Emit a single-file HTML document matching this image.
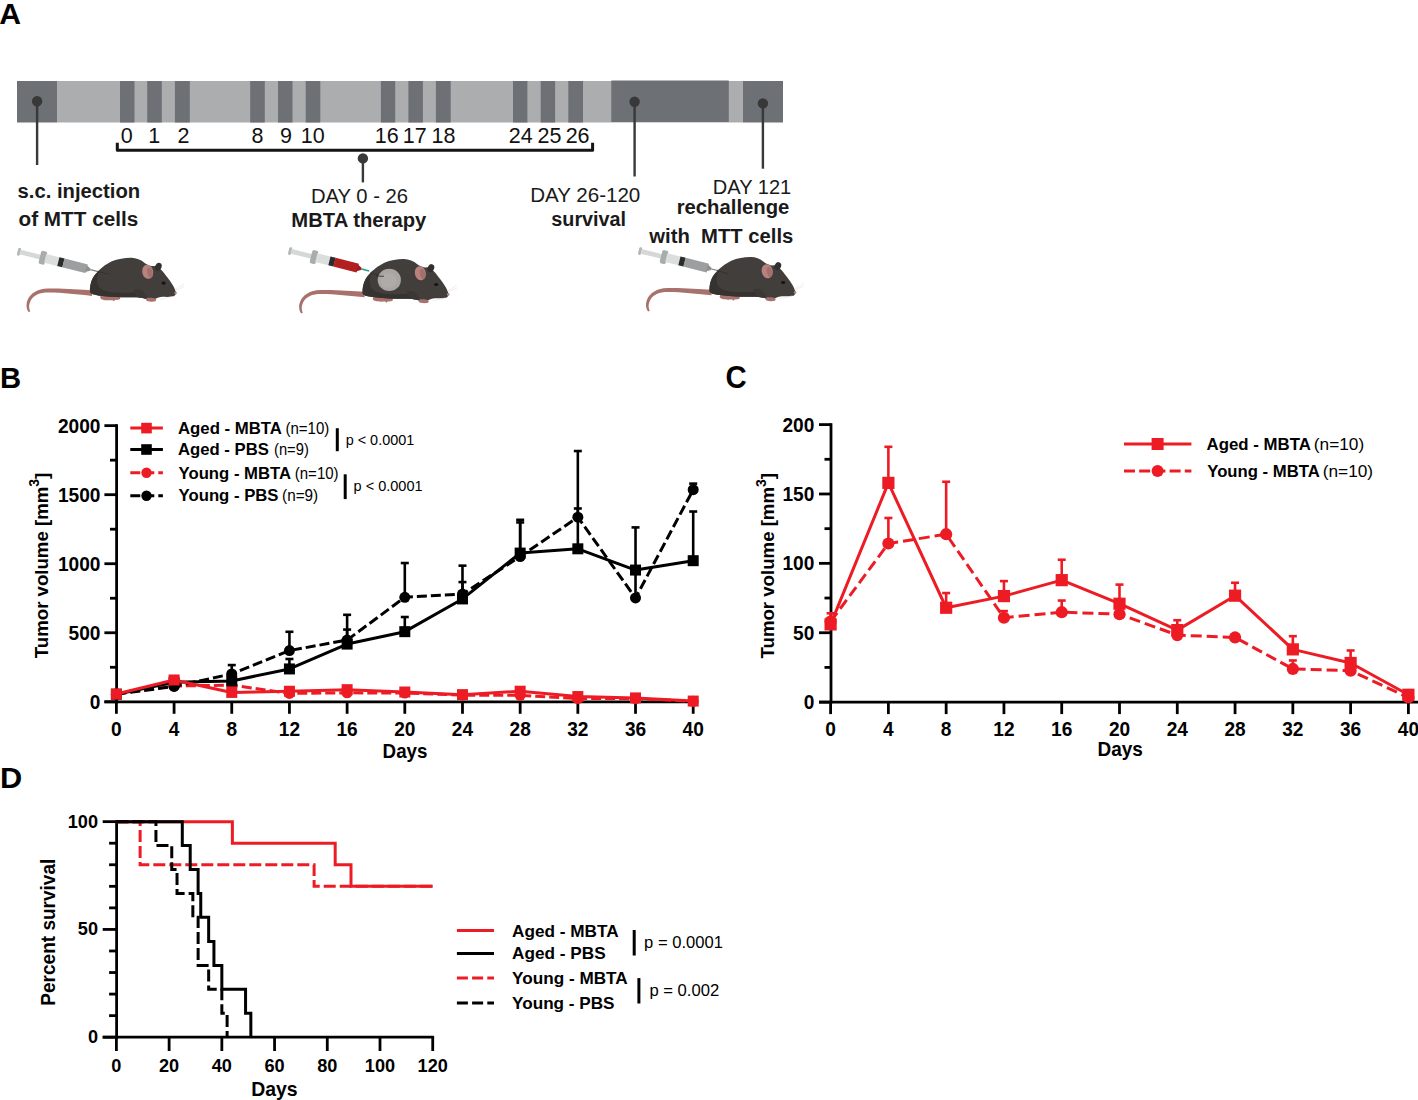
<!DOCTYPE html>
<html><head><meta charset="utf-8"><title>Figure</title>
<style>html,body{margin:0;padding:0;background:#fff;}svg{display:block;}text{font-family:"Liberation Sans", sans-serif;}</style>
</head><body>
<svg width="1418" height="1100" viewBox="0 0 1418 1100" font-family='"Liberation Sans", sans-serif'>
<rect width="1418" height="1100" fill="#fff"/>
<text x="-0.75" y="23.9" font-size="30" font-weight="bold" textLength="21.77" lengthAdjust="spacingAndGlyphs">A</text>
<rect x="57" y="81" width="686" height="41.5" fill="#acadaf"/>
<rect x="17" y="81" width="40" height="41.5" fill="#6d7175"/>
<rect x="120" y="81" width="14.5" height="41.5" fill="#6d7175"/>
<rect x="147.2" y="81" width="14.6" height="41.5" fill="#6d7175"/>
<rect x="174.9" y="81" width="14.9" height="41.5" fill="#6d7175"/>
<rect x="250.2" y="81" width="14.6" height="41.5" fill="#6d7175"/>
<rect x="278" y="81" width="14.5" height="41.5" fill="#6d7175"/>
<rect x="305.7" y="81" width="14.6" height="41.5" fill="#6d7175"/>
<rect x="380.9" y="81" width="14.3" height="41.5" fill="#6d7175"/>
<rect x="408.4" y="81" width="14.5" height="41.5" fill="#6d7175"/>
<rect x="435.9" y="81" width="14.8" height="41.5" fill="#6d7175"/>
<rect x="513" y="81" width="14.4" height="41.5" fill="#6d7175"/>
<rect x="540.7" y="81" width="14.4" height="41.5" fill="#6d7175"/>
<rect x="568.3" y="81" width="14.7" height="41.5" fill="#6d7175"/>
<rect x="611.3" y="80.5" width="117.5" height="41.5" fill="#6d7175"/>
<rect x="743" y="81" width="40" height="41.5" fill="#6d7175"/>
<text x="126.8" y="142.7" font-size="21.5" text-anchor="middle" fill="#111">0</text>
<text x="154.2" y="142.7" font-size="21.5" text-anchor="middle" fill="#111">1</text>
<text x="183.4" y="142.7" font-size="21.5" text-anchor="middle" fill="#111">2</text>
<text x="257.5" y="142.7" font-size="21.5" text-anchor="middle" fill="#111">8</text>
<text x="286" y="142.7" font-size="21.5" text-anchor="middle" fill="#111">9</text>
<text x="312.8" y="142.7" font-size="21.5" text-anchor="middle" fill="#111">10</text>
<text x="386.7" y="142.7" font-size="21.5" text-anchor="middle" fill="#111">16</text>
<text x="414.8" y="142.7" font-size="21.5" text-anchor="middle" fill="#111">17</text>
<text x="443.4" y="142.7" font-size="21.5" text-anchor="middle" fill="#111">18</text>
<text x="520.8" y="142.7" font-size="21.5" text-anchor="middle" fill="#111">24</text>
<text x="549.5" y="142.7" font-size="21.5" text-anchor="middle" fill="#111">25</text>
<text x="577.6" y="142.7" font-size="21.5" text-anchor="middle" fill="#111">26</text>
<path d="M117.3,142.8 V150.3 H592.6 V142.8" fill="none" stroke="#151515" stroke-width="3" stroke-linejoin="round"/>
<line x1="37.1" y1="101.3" x2="37.1" y2="165" stroke="#383838" stroke-width="2.4"/>
<circle cx="37.1" cy="101.3" r="5.2" fill="#383838"/>
<line x1="362.9" y1="158.4" x2="362.9" y2="182.4" stroke="#383838" stroke-width="2.4"/>
<circle cx="362.9" cy="158.4" r="5.2" fill="#383838"/>
<line x1="634.6" y1="101.7" x2="634.6" y2="176.5" stroke="#383838" stroke-width="2.4"/>
<circle cx="634.6" cy="101.7" r="5.2" fill="#383838"/>
<line x1="762.9" y1="103.4" x2="762.9" y2="168.7" stroke="#383838" stroke-width="2.4"/>
<circle cx="762.9" cy="103.4" r="5.2" fill="#383838"/>
<text x="17.59" y="197.6" font-size="20" font-weight="bold" textLength="122.57" lengthAdjust="spacingAndGlyphs" fill="#1a1a1a">s.c. injection</text>
<text x="18.57" y="225.5" font-size="20" font-weight="bold" textLength="119.63" lengthAdjust="spacingAndGlyphs" fill="#1a1a1a">of MTT cells</text>
<text x="310.98" y="203.4" font-size="20.5" textLength="97.11" lengthAdjust="spacingAndGlyphs" fill="#1a1a1a">DAY 0 - 26</text>
<text x="291.38" y="226.6" font-size="20" font-weight="bold" textLength="134.96" lengthAdjust="spacingAndGlyphs" fill="#1a1a1a">MBTA therapy</text>
<text x="530.15" y="202" font-size="20.5" textLength="110.18" lengthAdjust="spacingAndGlyphs" fill="#1a1a1a">DAY 26-120</text>
<text x="551.31" y="225.9" font-size="20" font-weight="bold" textLength="74.78" lengthAdjust="spacingAndGlyphs" fill="#1a1a1a">survival</text>
<text x="712.8" y="193.7" font-size="20.5" textLength="78.41" lengthAdjust="spacingAndGlyphs" fill="#1a1a1a">DAY 121</text>
<text x="676.68" y="214.4" font-size="20" font-weight="bold" textLength="112.69" lengthAdjust="spacingAndGlyphs" fill="#1a1a1a">rechallenge</text>
<text x="649.3" y="243" font-size="20" font-weight="bold" textLength="144.05" lengthAdjust="spacingAndGlyphs" fill="#1a1a1a">with&#160; MTT cells</text>
<defs><g id="mbody"><path d="M92,290.4 C80,289.6 62,288.2 48,288.6 C37,289 30.5,293.5 27.6,300 C25.8,304.5 26.3,309 28.6,312 L30.2,311.4 C28.6,308 28.8,304.3 30.6,300.8 C33.6,295.2 39.5,292.6 48.5,292.6 C62,292.6 79,294.6 92,295.9 Z" fill="#a8716c"/><path d="M101,295.5 C106,294.5 114,295 119.5,296.5 C121,297.5 120.5,299.5 118.5,299.8 L115,300 L114,301.3 L112.5,300.2 C109,300.4 104,300.5 101.5,299.2 C99.8,298.2 99.8,296.2 101,295.5Z" fill="#aa726d"/><path d="M89.9,292 C89.6,287.5 90.5,282 92.8,278.2 C94.5,275 96.5,272.8 99,270.2 C102.5,266.8 107,263.6 111.8,261.3 C118,258.9 125,257.6 131.5,257.7 C136,257.8 141,259.5 145,263.2 C148,265.2 151,266.2 153.5,266 C156,265.6 159,267.5 161.9,270.5 C164,273 166,275.5 167.5,277.5 C169.5,280.2 171.2,282.6 172.5,284.8 C174,287.2 175.2,289.6 176,292.6 C176.2,294.6 174.8,296.2 172.8,296.6 C169.5,297 166,297 162.5,296.8 C160,297.2 157,297.8 155,299 C152,300 148,299.8 146.5,299 C142,297.5 138,297.3 134,297.3 C128,297.4 122,297.4 116,297 C110,296.8 104,296.2 98,295.4 C94,294.8 91,293.8 89.9,292Z" fill="#423e3b"/><path d="M90,292 C89.8,287 90.8,281.5 93,277.5 C95,274.5 97.5,272 99.5,271 C97.5,275 96.4,280 97.6,284.5 C99,289.6 106,291.8 115,292.6 C125,293.3 134,292.8 140,291.5 C143,294 145,296.5 146.5,299 C142,297.5 138,297.3 134,297.3 C128,297.4 122,297.4 116,297 C110,296.8 104,296.2 98,295.4 C94,294.8 91,293.8 90,292Z" fill="#36322f"/><path d="M134,290 C138,288.5 141.5,289.5 143.5,292 C145.5,294.5 147,297 147.5,299.2 C144,298.6 140,297.6 136.5,297 Z" fill="#3b3734"/><path d="M146.5,298.3 C149,297.5 153,297.8 155.5,298.8 C156.6,299.6 156.2,301.3 154.6,301.6 C152,301.9 149,301.7 147,301 C145.8,300.4 145.6,298.9 146.5,298.3Z" fill="#aa726d"/><ellipse cx="158.3" cy="266.8" rx="3.2" ry="4.1" transform="rotate(25 158.3 266.8)" fill="#34302d"/><ellipse cx="147.7" cy="271.8" rx="5.5" ry="7.1" transform="rotate(-12 147.7 271.8)" fill="#b8837f"/><ellipse cx="150" cy="272.6" rx="2.6" ry="5" transform="rotate(-12 150 272.6)" fill="#a4706c"/><ellipse cx="163.6" cy="283.1" rx="2.1" ry="1.6" fill="#171313"/><circle cx="175.6" cy="293" r="1.3" fill="#c0807e"/><path d="M97.5,271.4 L108.5,274.2" stroke="#2a2a2a" stroke-width="0.7" fill="none" opacity="0.8"/><path d="M175,289.5 L184,284 M175.5,290.5 L184.5,286.5 M173,296.5 L160,299.5" stroke="#e3e3e3" stroke-width="0.6" fill="none"/></g></defs>
<g transform="translate(17.6,251.4) rotate(14.1)"><rect x="0" y="-3.9" width="2.9" height="7.8" rx="1.2" fill="#b3b6b7"/><rect x="2.5" y="-2.4" width="22.5" height="4.8" fill="#d6d8d8"/><rect x="23" y="-6.8" width="6.2" height="13.6" rx="2" fill="#a9acad"/><rect x="28.5" y="-4.5" width="42" height="9" fill="#dcdede"/><rect x="42" y="-4.5" width="5.3" height="9" fill="#2b2b2b"/><rect x="47.2" y="-4.5" width="24" height="9" fill="#9c9e9f"/><path d="M70.5,-3.5 L75,-1 L75,1 L70.5,3.5Z" fill="#8d9091"/><rect x="75" y="-0.6" width="8" height="1.2" fill="#7d8081"/></g>
<use href="#mbody"/>
<g transform="translate(288.7,250.7) rotate(14.1)"><rect x="0" y="-3.9" width="2.9" height="7.8" rx="1.2" fill="#b3b6b7"/><rect x="2.5" y="-2.4" width="22.5" height="4.8" fill="#d6d8d8"/><rect x="23" y="-6.8" width="6.2" height="13.6" rx="2" fill="#a9acad"/><rect x="28.5" y="-4.5" width="42" height="9" fill="#dcdede"/><rect x="42" y="-4.5" width="5.3" height="9" fill="#2b2b2b"/><rect x="47.2" y="-4.5" width="24" height="9" fill="#b21f1f"/><path d="M70.5,-3.5 L75,-1 L75,1 L70.5,3.5Z" fill="#a01c1c"/><rect x="75" y="-0.8" width="8" height="1.6" fill="#2c9c8c"/></g>
<use href="#mbody" transform="translate(272.6,1.4)"/>
<ellipse cx="389.3" cy="279.9" rx="11.6" ry="11.1" fill="#a8a5a2"/>
<ellipse cx="388.5" cy="280.5" rx="8" ry="7.5" fill="#b1afac" opacity="0.7"/>
<path d="M376,276 L384,276.3" stroke="#2a2a2a" stroke-width="0.8"/>
<g transform="translate(638.7,250.7) rotate(14.1)"><rect x="0" y="-3.9" width="2.9" height="7.8" rx="1.2" fill="#b3b6b7"/><rect x="2.5" y="-2.4" width="22.5" height="4.8" fill="#d6d8d8"/><rect x="23" y="-6.8" width="6.2" height="13.6" rx="2" fill="#a9acad"/><rect x="28.5" y="-4.5" width="42" height="9" fill="#dcdede"/><rect x="42" y="-4.5" width="5.3" height="9" fill="#2b2b2b"/><rect x="47.2" y="-4.5" width="24" height="9" fill="#9c9e9f"/><path d="M70.5,-3.5 L75,-1 L75,1 L70.5,3.5Z" fill="#8d9091"/><rect x="75" y="-0.6" width="8" height="1.2" fill="#7d8081"/></g>
<use href="#mbody" transform="translate(619.5,-0.6)"/>
<text x="0.1" y="387.5" font-size="30.3" font-weight="bold" textLength="21.13" lengthAdjust="spacingAndGlyphs">B</text>
<line x1="116.6" y1="424.24" x2="116.6" y2="703.20" stroke="#000" stroke-width="2.8"/><line x1="104.4" y1="701.80" x2="117" y2="701.80" stroke="#000" stroke-width="2.8"/><line x1="110" y1="667.28" x2="117" y2="667.28" stroke="#000" stroke-width="2.8"/><line x1="104.4" y1="632.76" x2="117" y2="632.76" stroke="#000" stroke-width="2.8"/><line x1="110" y1="598.24" x2="117" y2="598.24" stroke="#000" stroke-width="2.8"/><line x1="104.4" y1="563.72" x2="117" y2="563.72" stroke="#000" stroke-width="2.8"/><line x1="110" y1="529.20" x2="117" y2="529.20" stroke="#000" stroke-width="2.8"/><line x1="104.4" y1="494.68" x2="117" y2="494.68" stroke="#000" stroke-width="2.8"/><line x1="110" y1="460.16" x2="117" y2="460.16" stroke="#000" stroke-width="2.8"/><line x1="104.4" y1="425.64" x2="117" y2="425.64" stroke="#000" stroke-width="2.8"/><line x1="104.4" y1="701.80" x2="694.60" y2="701.80" stroke="#000" stroke-width="2.8"/><line x1="116.40" y1="701.80" x2="116.40" y2="713.8" stroke="#000" stroke-width="2.8"/><line x1="174.08" y1="701.80" x2="174.08" y2="713.8" stroke="#000" stroke-width="2.8"/><line x1="231.76" y1="701.80" x2="231.76" y2="713.8" stroke="#000" stroke-width="2.8"/><line x1="289.44" y1="701.80" x2="289.44" y2="713.8" stroke="#000" stroke-width="2.8"/><line x1="347.12" y1="701.80" x2="347.12" y2="713.8" stroke="#000" stroke-width="2.8"/><line x1="404.80" y1="701.80" x2="404.80" y2="713.8" stroke="#000" stroke-width="2.8"/><line x1="462.48" y1="701.80" x2="462.48" y2="713.8" stroke="#000" stroke-width="2.8"/><line x1="520.16" y1="701.80" x2="520.16" y2="713.8" stroke="#000" stroke-width="2.8"/><line x1="577.84" y1="701.80" x2="577.84" y2="713.8" stroke="#000" stroke-width="2.8"/><line x1="635.52" y1="701.80" x2="635.52" y2="713.8" stroke="#000" stroke-width="2.8"/><line x1="693.20" y1="701.80" x2="693.20" y2="713.8" stroke="#000" stroke-width="2.8"/>
<text x="100.4" y="708.8" font-size="20" font-weight="bold" text-anchor="end" textLength="10.62" lengthAdjust="spacingAndGlyphs">0</text>
<text x="100.4" y="639.76" font-size="20" font-weight="bold" text-anchor="end" textLength="31.87" lengthAdjust="spacingAndGlyphs">500</text>
<text x="100.4" y="570.72" font-size="20" font-weight="bold" text-anchor="end" textLength="42.49" lengthAdjust="spacingAndGlyphs">1000</text>
<text x="100.4" y="501.68" font-size="20" font-weight="bold" text-anchor="end" textLength="42.49" lengthAdjust="spacingAndGlyphs">1500</text>
<text x="100.4" y="432.64" font-size="20" font-weight="bold" text-anchor="end" textLength="42.49" lengthAdjust="spacingAndGlyphs">2000</text>
<text x="116.4" y="735.9" font-size="20" font-weight="bold" text-anchor="middle" textLength="10.62" lengthAdjust="spacingAndGlyphs">0</text>
<text x="174.08" y="735.9" font-size="20" font-weight="bold" text-anchor="middle" textLength="10.62" lengthAdjust="spacingAndGlyphs">4</text>
<text x="231.76" y="735.9" font-size="20" font-weight="bold" text-anchor="middle" textLength="10.62" lengthAdjust="spacingAndGlyphs">8</text>
<text x="289.44" y="735.9" font-size="20" font-weight="bold" text-anchor="middle" textLength="21.25" lengthAdjust="spacingAndGlyphs">12</text>
<text x="347.12" y="735.9" font-size="20" font-weight="bold" text-anchor="middle" textLength="21.25" lengthAdjust="spacingAndGlyphs">16</text>
<text x="404.8" y="735.9" font-size="20" font-weight="bold" text-anchor="middle" textLength="21.25" lengthAdjust="spacingAndGlyphs">20</text>
<text x="462.48" y="735.9" font-size="20" font-weight="bold" text-anchor="middle" textLength="21.25" lengthAdjust="spacingAndGlyphs">24</text>
<text x="520.16" y="735.9" font-size="20" font-weight="bold" text-anchor="middle" textLength="21.25" lengthAdjust="spacingAndGlyphs">28</text>
<text x="577.84" y="735.9" font-size="20" font-weight="bold" text-anchor="middle" textLength="21.25" lengthAdjust="spacingAndGlyphs">32</text>
<text x="635.52" y="735.9" font-size="20" font-weight="bold" text-anchor="middle" textLength="21.25" lengthAdjust="spacingAndGlyphs">36</text>
<text x="693.2" y="735.9" font-size="20" font-weight="bold" text-anchor="middle" textLength="21.25" lengthAdjust="spacingAndGlyphs">40</text>
<text x="382.58" y="757.8" font-size="19.8" font-weight="bold" textLength="44.88" lengthAdjust="spacingAndGlyphs">Days</text>
<text transform="translate(47.9,658.2) rotate(-90)" font-size="18.7" font-weight="bold" textLength="185.5" lengthAdjust="spacingAndGlyphs">Tumor volume [mm<tspan dy="-8.5" font-size="14">3</tspan><tspan dy="8.5">]</tspan></text>
<polyline points="116.40,693.79 174.08,686.02 231.76,685.09 289.44,693.40 347.12,692.85 404.80,693.05 462.48,695.13 520.16,695.37 577.84,698.50 635.52,698.68 693.20,701.34" fill="none" stroke="#ed1c24" stroke-width="3" stroke-dasharray="10 4" stroke-linejoin="round"/><circle cx="116.40" cy="693.79" r="5.5" fill="#ed1c24"/><circle cx="174.08" cy="686.02" r="5.5" fill="#ed1c24"/><circle cx="231.76" cy="685.09" r="5.5" fill="#ed1c24"/><circle cx="289.44" cy="693.40" r="5.5" fill="#ed1c24"/><circle cx="347.12" cy="692.85" r="5.5" fill="#ed1c24"/><circle cx="404.80" cy="693.05" r="5.5" fill="#ed1c24"/><circle cx="462.48" cy="695.13" r="5.5" fill="#ed1c24"/><circle cx="520.16" cy="695.37" r="5.5" fill="#ed1c24"/><circle cx="577.84" cy="698.50" r="5.5" fill="#ed1c24"/><circle cx="635.52" cy="698.68" r="5.5" fill="#ed1c24"/><circle cx="693.20" cy="701.34" r="5.5" fill="#ed1c24"/>
<line x1="231.76" y1="673.91" x2="231.76" y2="665.07" stroke="#000" stroke-width="2.6"/><line x1="227.76" y1="665.07" x2="235.76" y2="665.07" stroke="#000" stroke-width="2.6"/><line x1="289.44" y1="650.57" x2="289.44" y2="631.79" stroke="#000" stroke-width="2.6"/><line x1="285.44" y1="631.79" x2="293.44" y2="631.79" stroke="#000" stroke-width="2.6"/><line x1="347.12" y1="640.08" x2="347.12" y2="614.81" stroke="#000" stroke-width="2.6"/><line x1="343.12" y1="614.81" x2="351.12" y2="614.81" stroke="#000" stroke-width="2.6"/><line x1="404.80" y1="597.27" x2="404.80" y2="563.03" stroke="#000" stroke-width="2.6"/><line x1="400.80" y1="563.03" x2="408.80" y2="563.03" stroke="#000" stroke-width="2.6"/><line x1="462.48" y1="594.10" x2="462.48" y2="565.65" stroke="#000" stroke-width="2.6"/><line x1="458.48" y1="565.65" x2="466.48" y2="565.65" stroke="#000" stroke-width="2.6"/><line x1="520.16" y1="556.54" x2="520.16" y2="519.81" stroke="#000" stroke-width="2.6"/><line x1="516.16" y1="519.81" x2="524.16" y2="519.81" stroke="#000" stroke-width="2.6"/><line x1="577.84" y1="517.19" x2="577.84" y2="451.05" stroke="#000" stroke-width="2.6"/><line x1="573.84" y1="451.05" x2="581.84" y2="451.05" stroke="#000" stroke-width="2.6"/><line x1="635.52" y1="597.96" x2="635.52" y2="570.62" stroke="#000" stroke-width="2.6"/><line x1="631.52" y1="570.62" x2="639.52" y2="570.62" stroke="#000" stroke-width="2.6"/><line x1="693.20" y1="489.71" x2="693.20" y2="483.63" stroke="#000" stroke-width="2.6"/><line x1="689.20" y1="483.63" x2="697.20" y2="483.63" stroke="#000" stroke-width="2.6"/><polyline points="116.40,694.21 174.08,686.47 231.76,673.91 289.44,650.57 347.12,640.08 404.80,597.27 462.48,594.10 520.16,556.54 577.84,517.19 635.52,597.96 693.20,489.71" fill="none" stroke="#000" stroke-width="3" stroke-dasharray="10 4" stroke-linejoin="round"/><circle cx="116.40" cy="694.21" r="5.5" fill="#000"/><circle cx="174.08" cy="686.47" r="5.5" fill="#000"/><circle cx="231.76" cy="673.91" r="5.5" fill="#000"/><circle cx="289.44" cy="650.57" r="5.5" fill="#000"/><circle cx="347.12" cy="640.08" r="5.5" fill="#000"/><circle cx="404.80" cy="597.27" r="5.5" fill="#000"/><circle cx="462.48" cy="594.10" r="5.5" fill="#000"/><circle cx="520.16" cy="556.54" r="5.5" fill="#000"/><circle cx="577.84" cy="517.19" r="5.5" fill="#000"/><circle cx="635.52" cy="597.96" r="5.5" fill="#000"/><circle cx="693.20" cy="489.71" r="5.5" fill="#000"/>
<line x1="289.44" y1="668.94" x2="289.44" y2="659.00" stroke="#000" stroke-width="2.6"/><line x1="285.44" y1="659.00" x2="293.44" y2="659.00" stroke="#000" stroke-width="2.6"/><line x1="347.12" y1="644.08" x2="347.12" y2="629.58" stroke="#000" stroke-width="2.6"/><line x1="343.12" y1="629.58" x2="351.12" y2="629.58" stroke="#000" stroke-width="2.6"/><line x1="404.80" y1="631.66" x2="404.80" y2="617.02" stroke="#000" stroke-width="2.6"/><line x1="400.80" y1="617.02" x2="408.80" y2="617.02" stroke="#000" stroke-width="2.6"/><line x1="462.48" y1="598.93" x2="462.48" y2="582.08" stroke="#000" stroke-width="2.6"/><line x1="458.48" y1="582.08" x2="466.48" y2="582.08" stroke="#000" stroke-width="2.6"/><line x1="520.16" y1="553.09" x2="520.16" y2="522.43" stroke="#000" stroke-width="2.6"/><line x1="516.16" y1="522.43" x2="524.16" y2="522.43" stroke="#000" stroke-width="2.6"/><line x1="577.84" y1="548.81" x2="577.84" y2="508.49" stroke="#000" stroke-width="2.6"/><line x1="573.84" y1="508.49" x2="581.84" y2="508.49" stroke="#000" stroke-width="2.6"/><line x1="635.52" y1="570.07" x2="635.52" y2="527.40" stroke="#000" stroke-width="2.6"/><line x1="631.52" y1="527.40" x2="639.52" y2="527.40" stroke="#000" stroke-width="2.6"/><line x1="693.20" y1="560.68" x2="693.20" y2="511.53" stroke="#000" stroke-width="2.6"/><line x1="689.20" y1="511.53" x2="697.20" y2="511.53" stroke="#000" stroke-width="2.6"/><polyline points="116.40,694.21 174.08,682.33 231.76,680.95 289.44,668.94 347.12,644.08 404.80,631.66 462.48,598.93 520.16,553.09 577.84,548.81 635.52,570.07 693.20,560.68" fill="none" stroke="#000" stroke-width="3" stroke-linejoin="round"/><rect x="110.90" y="688.71" width="11" height="11" fill="#000"/><rect x="168.58" y="676.83" width="11" height="11" fill="#000"/><rect x="226.26" y="675.45" width="11" height="11" fill="#000"/><rect x="283.94" y="663.44" width="11" height="11" fill="#000"/><rect x="341.62" y="638.58" width="11" height="11" fill="#000"/><rect x="399.30" y="626.16" width="11" height="11" fill="#000"/><rect x="456.98" y="593.43" width="11" height="11" fill="#000"/><rect x="514.66" y="547.59" width="11" height="11" fill="#000"/><rect x="572.34" y="543.31" width="11" height="11" fill="#000"/><rect x="630.02" y="564.57" width="11" height="11" fill="#000"/><rect x="687.70" y="555.18" width="11" height="11" fill="#000"/>
<polyline points="116.40,694.07 174.08,679.98 231.76,692.41 289.44,691.25 347.12,689.66 404.80,692.01 462.48,694.63 520.16,691.21 577.84,696.55 635.52,697.91 693.20,701.07" fill="none" stroke="#ed1c24" stroke-width="3" stroke-linejoin="round"/><rect x="110.90" y="688.57" width="11" height="11" fill="#ed1c24"/><rect x="168.58" y="674.48" width="11" height="11" fill="#ed1c24"/><rect x="226.26" y="686.91" width="11" height="11" fill="#ed1c24"/><rect x="283.94" y="685.75" width="11" height="11" fill="#ed1c24"/><rect x="341.62" y="684.16" width="11" height="11" fill="#ed1c24"/><rect x="399.30" y="686.51" width="11" height="11" fill="#ed1c24"/><rect x="456.98" y="689.13" width="11" height="11" fill="#ed1c24"/><rect x="514.66" y="685.71" width="11" height="11" fill="#ed1c24"/><rect x="572.34" y="691.05" width="11" height="11" fill="#ed1c24"/><rect x="630.02" y="692.41" width="11" height="11" fill="#ed1c24"/><rect x="687.70" y="695.57" width="11" height="11" fill="#ed1c24"/>
<line x1="130.3" y1="428.1" x2="162.9" y2="428.1" stroke="#ed1c24" stroke-width="3"/>
<rect x="141.20" y="422.80" width="10.6" height="10.6" fill="#ed1c24"/>
<text x="177.98" y="433.9" font-size="17.1" font-weight="bold" textLength="103.99" lengthAdjust="spacingAndGlyphs">Aged - MBTA</text>
<text x="285.4" y="433.9" font-size="16.0" textLength="43.86" lengthAdjust="spacingAndGlyphs">(n=10)</text>
<line x1="130.3" y1="449.5" x2="162.9" y2="449.5" stroke="#000" stroke-width="3"/>
<rect x="141.20" y="444.20" width="10.6" height="10.6" fill="#000"/>
<text x="177.98" y="454.8" font-size="17.1" font-weight="bold" textLength="90.9" lengthAdjust="spacingAndGlyphs">Aged - PBS</text>
<text x="274.02" y="454.8" font-size="16.0" textLength="34.8" lengthAdjust="spacingAndGlyphs">(n=9)</text>
<line x1="130.3" y1="472.7" x2="162.9" y2="472.7" stroke="#ed1c24" stroke-width="3" stroke-dasharray="10 4"/>
<circle cx="146.50" cy="472.70" r="5.2" fill="#ed1c24"/>
<text x="178.57" y="478.5" font-size="17.1" font-weight="bold" textLength="112.52" lengthAdjust="spacingAndGlyphs">Young - MBTA</text>
<text x="294.8" y="478.5" font-size="16.0" textLength="43.75" lengthAdjust="spacingAndGlyphs">(n=10)</text>
<line x1="130.3" y1="495.8" x2="162.9" y2="495.8" stroke="#000" stroke-width="3" stroke-dasharray="10 4"/>
<circle cx="146.50" cy="495.80" r="5.2" fill="#000"/>
<text x="178.57" y="501.2" font-size="17.1" font-weight="bold" textLength="99.94" lengthAdjust="spacingAndGlyphs">Young - PBS</text>
<text x="282.08" y="501.2" font-size="16.0" textLength="36.07" lengthAdjust="spacingAndGlyphs">(n=9)</text>
<line x1="337.3" y1="428.2" x2="337.3" y2="451.2" stroke="#000" stroke-width="3"/>
<text x="345.7" y="445" font-size="15.5" textLength="68.5" lengthAdjust="spacingAndGlyphs">p &lt; 0.0001</text>
<line x1="345.2" y1="474.3" x2="345.2" y2="499.1" stroke="#000" stroke-width="3"/>
<text x="353.6" y="490.8" font-size="15.5" textLength="69" lengthAdjust="spacingAndGlyphs">p &lt; 0.0001</text>
<text x="725.5" y="387.7" font-size="30.5" font-weight="bold" textLength="21.16" lengthAdjust="spacingAndGlyphs">C</text>
<line x1="831" y1="423.20" x2="831" y2="703.50" stroke="#000" stroke-width="2.8"/><line x1="819" y1="702.10" x2="831.4" y2="702.10" stroke="#000" stroke-width="2.8"/><line x1="824.5" y1="667.41" x2="831.4" y2="667.41" stroke="#000" stroke-width="2.8"/><line x1="819" y1="632.73" x2="831.4" y2="632.73" stroke="#000" stroke-width="2.8"/><line x1="824.5" y1="598.04" x2="831.4" y2="598.04" stroke="#000" stroke-width="2.8"/><line x1="819" y1="563.35" x2="831.4" y2="563.35" stroke="#000" stroke-width="2.8"/><line x1="824.5" y1="528.66" x2="831.4" y2="528.66" stroke="#000" stroke-width="2.8"/><line x1="819" y1="493.98" x2="831.4" y2="493.98" stroke="#000" stroke-width="2.8"/><line x1="824.5" y1="459.29" x2="831.4" y2="459.29" stroke="#000" stroke-width="2.8"/><line x1="819" y1="424.60" x2="831.4" y2="424.60" stroke="#000" stroke-width="2.8"/><line x1="819" y1="702.10" x2="1420" y2="702.10" stroke="#000" stroke-width="2.8"/><line x1="830.60" y1="702.10" x2="830.60" y2="714.1" stroke="#000" stroke-width="2.8"/><line x1="888.38" y1="702.10" x2="888.38" y2="714.1" stroke="#000" stroke-width="2.8"/><line x1="946.16" y1="702.10" x2="946.16" y2="714.1" stroke="#000" stroke-width="2.8"/><line x1="1003.94" y1="702.10" x2="1003.94" y2="714.1" stroke="#000" stroke-width="2.8"/><line x1="1061.72" y1="702.10" x2="1061.72" y2="714.1" stroke="#000" stroke-width="2.8"/><line x1="1119.50" y1="702.10" x2="1119.50" y2="714.1" stroke="#000" stroke-width="2.8"/><line x1="1177.28" y1="702.10" x2="1177.28" y2="714.1" stroke="#000" stroke-width="2.8"/><line x1="1235.06" y1="702.10" x2="1235.06" y2="714.1" stroke="#000" stroke-width="2.8"/><line x1="1292.84" y1="702.10" x2="1292.84" y2="714.1" stroke="#000" stroke-width="2.8"/><line x1="1350.62" y1="702.10" x2="1350.62" y2="714.1" stroke="#000" stroke-width="2.8"/><line x1="1408.40" y1="702.10" x2="1408.40" y2="714.1" stroke="#000" stroke-width="2.8"/>
<text x="814.3" y="709.1" font-size="20" font-weight="bold" text-anchor="end" textLength="10.62" lengthAdjust="spacingAndGlyphs">0</text>
<text x="814.3" y="639.73" font-size="20" font-weight="bold" text-anchor="end" textLength="21.25" lengthAdjust="spacingAndGlyphs">50</text>
<text x="814.3" y="570.35" font-size="20" font-weight="bold" text-anchor="end" textLength="31.87" lengthAdjust="spacingAndGlyphs">100</text>
<text x="814.3" y="500.98" font-size="20" font-weight="bold" text-anchor="end" textLength="31.87" lengthAdjust="spacingAndGlyphs">150</text>
<text x="814.3" y="431.6" font-size="20" font-weight="bold" text-anchor="end" textLength="31.87" lengthAdjust="spacingAndGlyphs">200</text>
<text x="830.6" y="736.2" font-size="20" font-weight="bold" text-anchor="middle" textLength="10.62" lengthAdjust="spacingAndGlyphs">0</text>
<text x="888.38" y="736.2" font-size="20" font-weight="bold" text-anchor="middle" textLength="10.62" lengthAdjust="spacingAndGlyphs">4</text>
<text x="946.16" y="736.2" font-size="20" font-weight="bold" text-anchor="middle" textLength="10.62" lengthAdjust="spacingAndGlyphs">8</text>
<text x="1003.94" y="736.2" font-size="20" font-weight="bold" text-anchor="middle" textLength="21.25" lengthAdjust="spacingAndGlyphs">12</text>
<text x="1061.72" y="736.2" font-size="20" font-weight="bold" text-anchor="middle" textLength="21.25" lengthAdjust="spacingAndGlyphs">16</text>
<text x="1119.5" y="736.2" font-size="20" font-weight="bold" text-anchor="middle" textLength="21.25" lengthAdjust="spacingAndGlyphs">20</text>
<text x="1177.28" y="736.2" font-size="20" font-weight="bold" text-anchor="middle" textLength="21.25" lengthAdjust="spacingAndGlyphs">24</text>
<text x="1235.06" y="736.2" font-size="20" font-weight="bold" text-anchor="middle" textLength="21.25" lengthAdjust="spacingAndGlyphs">28</text>
<text x="1292.84" y="736.2" font-size="20" font-weight="bold" text-anchor="middle" textLength="21.25" lengthAdjust="spacingAndGlyphs">32</text>
<text x="1350.62" y="736.2" font-size="20" font-weight="bold" text-anchor="middle" textLength="21.25" lengthAdjust="spacingAndGlyphs">36</text>
<text x="1408.4" y="736.2" font-size="20" font-weight="bold" text-anchor="middle" textLength="21.25" lengthAdjust="spacingAndGlyphs">40</text>
<text x="1097.47" y="755.5" font-size="19.8" font-weight="bold" textLength="45.41" lengthAdjust="spacingAndGlyphs">Days</text>
<text transform="translate(774.4,658.5) rotate(-90)" font-size="18.7" font-weight="bold" textLength="185.5" lengthAdjust="spacingAndGlyphs">Tumor volume [mm<tspan dy="-8.5" font-size="14">3</tspan><tspan dy="8.5">]</tspan></text>
<line x1="830.60" y1="621.62" x2="830.60" y2="613.30" stroke="#ed1c24" stroke-width="2.6"/><line x1="826.60" y1="613.30" x2="834.60" y2="613.30" stroke="#ed1c24" stroke-width="2.6"/><line x1="888.38" y1="543.51" x2="888.38" y2="517.98" stroke="#ed1c24" stroke-width="2.6"/><line x1="884.38" y1="517.98" x2="892.38" y2="517.98" stroke="#ed1c24" stroke-width="2.6"/><line x1="946.16" y1="534.21" x2="946.16" y2="481.76" stroke="#ed1c24" stroke-width="2.6"/><line x1="942.16" y1="481.76" x2="950.16" y2="481.76" stroke="#ed1c24" stroke-width="2.6"/><line x1="1003.94" y1="617.74" x2="1003.94" y2="611.08" stroke="#ed1c24" stroke-width="2.6"/><line x1="999.94" y1="611.08" x2="1007.94" y2="611.08" stroke="#ed1c24" stroke-width="2.6"/><line x1="1061.72" y1="612.19" x2="1061.72" y2="600.54" stroke="#ed1c24" stroke-width="2.6"/><line x1="1057.72" y1="600.54" x2="1065.72" y2="600.54" stroke="#ed1c24" stroke-width="2.6"/><line x1="1292.84" y1="668.94" x2="1292.84" y2="660.48" stroke="#ed1c24" stroke-width="2.6"/><line x1="1288.84" y1="660.48" x2="1296.84" y2="660.48" stroke="#ed1c24" stroke-width="2.6"/><polyline points="830.60,621.62 888.38,543.51 946.16,534.21 1003.94,617.74 1061.72,612.19 1119.50,614.13 1177.28,635.08 1235.06,637.44 1292.84,668.94 1350.62,670.74 1408.40,697.52" fill="none" stroke="#ed1c24" stroke-width="3" stroke-dasharray="11 5" stroke-linejoin="round"/><circle cx="830.60" cy="621.62" r="6.1" fill="#ed1c24"/><circle cx="888.38" cy="543.51" r="6.1" fill="#ed1c24"/><circle cx="946.16" cy="534.21" r="6.1" fill="#ed1c24"/><circle cx="1003.94" cy="617.74" r="6.1" fill="#ed1c24"/><circle cx="1061.72" cy="612.19" r="6.1" fill="#ed1c24"/><circle cx="1119.50" cy="614.13" r="6.1" fill="#ed1c24"/><circle cx="1177.28" cy="635.08" r="6.1" fill="#ed1c24"/><circle cx="1235.06" cy="637.44" r="6.1" fill="#ed1c24"/><circle cx="1292.84" cy="668.94" r="6.1" fill="#ed1c24"/><circle cx="1350.62" cy="670.74" r="6.1" fill="#ed1c24"/><circle cx="1408.40" cy="697.52" r="6.1" fill="#ed1c24"/>
<line x1="888.38" y1="482.88" x2="888.38" y2="446.80" stroke="#ed1c24" stroke-width="2.6"/><line x1="884.38" y1="446.80" x2="892.38" y2="446.80" stroke="#ed1c24" stroke-width="2.6"/><line x1="946.16" y1="607.75" x2="946.16" y2="593.04" stroke="#ed1c24" stroke-width="2.6"/><line x1="942.16" y1="593.04" x2="950.16" y2="593.04" stroke="#ed1c24" stroke-width="2.6"/><line x1="1003.94" y1="596.10" x2="1003.94" y2="581.11" stroke="#ed1c24" stroke-width="2.6"/><line x1="999.94" y1="581.11" x2="1007.94" y2="581.11" stroke="#ed1c24" stroke-width="2.6"/><line x1="1061.72" y1="580.14" x2="1061.72" y2="559.74" stroke="#ed1c24" stroke-width="2.6"/><line x1="1057.72" y1="559.74" x2="1065.72" y2="559.74" stroke="#ed1c24" stroke-width="2.6"/><line x1="1119.50" y1="603.73" x2="1119.50" y2="584.58" stroke="#ed1c24" stroke-width="2.6"/><line x1="1115.50" y1="584.58" x2="1123.50" y2="584.58" stroke="#ed1c24" stroke-width="2.6"/><line x1="1177.28" y1="630.09" x2="1177.28" y2="620.24" stroke="#ed1c24" stroke-width="2.6"/><line x1="1173.28" y1="620.24" x2="1181.28" y2="620.24" stroke="#ed1c24" stroke-width="2.6"/><line x1="1235.06" y1="595.68" x2="1235.06" y2="582.77" stroke="#ed1c24" stroke-width="2.6"/><line x1="1231.06" y1="582.77" x2="1239.06" y2="582.77" stroke="#ed1c24" stroke-width="2.6"/><line x1="1292.84" y1="649.38" x2="1292.84" y2="636.19" stroke="#ed1c24" stroke-width="2.6"/><line x1="1288.84" y1="636.19" x2="1296.84" y2="636.19" stroke="#ed1c24" stroke-width="2.6"/><line x1="1350.62" y1="662.97" x2="1350.62" y2="650.49" stroke="#ed1c24" stroke-width="2.6"/><line x1="1346.62" y1="650.49" x2="1354.62" y2="650.49" stroke="#ed1c24" stroke-width="2.6"/><polyline points="830.60,624.40 888.38,482.88 946.16,607.75 1003.94,596.10 1061.72,580.14 1119.50,603.73 1177.28,630.09 1235.06,595.68 1292.84,649.38 1350.62,662.97 1408.40,694.75" fill="none" stroke="#ed1c24" stroke-width="3" stroke-linejoin="round"/><rect x="824.50" y="618.30" width="12.2" height="12.2" fill="#ed1c24"/><rect x="882.28" y="476.77" width="12.2" height="12.2" fill="#ed1c24"/><rect x="940.06" y="601.65" width="12.2" height="12.2" fill="#ed1c24"/><rect x="997.84" y="590.00" width="12.2" height="12.2" fill="#ed1c24"/><rect x="1055.62" y="574.04" width="12.2" height="12.2" fill="#ed1c24"/><rect x="1113.40" y="597.63" width="12.2" height="12.2" fill="#ed1c24"/><rect x="1171.18" y="623.99" width="12.2" height="12.2" fill="#ed1c24"/><rect x="1228.96" y="589.58" width="12.2" height="12.2" fill="#ed1c24"/><rect x="1286.74" y="643.27" width="12.2" height="12.2" fill="#ed1c24"/><rect x="1344.52" y="656.87" width="12.2" height="12.2" fill="#ed1c24"/><rect x="1402.30" y="688.65" width="12.2" height="12.2" fill="#ed1c24"/>
<line x1="1124" y1="444" x2="1191.4" y2="444" stroke="#ed1c24" stroke-width="3"/>
<rect x="1151.60" y="438.00" width="12" height="12" fill="#ed1c24"/>
<line x1="1124" y1="471.1" x2="1191.4" y2="471.1" stroke="#ed1c24" stroke-width="3" stroke-dasharray="11 4.2"/>
<circle cx="1157.60" cy="471.10" r="6" fill="#ed1c24"/>
<text x="1206.58" y="449.9" font-size="17.3" font-weight="bold" textLength="104.29" lengthAdjust="spacingAndGlyphs">Aged - MBTA</text>
<text x="1313.87" y="449.9" font-size="17.1" textLength="50.33" lengthAdjust="spacingAndGlyphs">(n=10)</text>
<text x="1207.27" y="476.9" font-size="17.3" font-weight="bold" textLength="112.52" lengthAdjust="spacingAndGlyphs">Young - MBTA</text>
<text x="1322.77" y="476.9" font-size="17.1" textLength="50.33" lengthAdjust="spacingAndGlyphs">(n=10)</text>
<text x="0" y="787.7" font-size="30.1" font-weight="bold" textLength="22.2" lengthAdjust="spacingAndGlyphs">D</text>
<line x1="116.6" y1="820.25" x2="116.6" y2="1038.60" stroke="#000" stroke-width="2.8"/><line x1="102.7" y1="1037.20" x2="117" y2="1037.20" stroke="#000" stroke-width="2.8"/><line x1="109.1" y1="1015.65" x2="117" y2="1015.65" stroke="#000" stroke-width="2.8"/><line x1="109.1" y1="994.09" x2="117" y2="994.09" stroke="#000" stroke-width="2.8"/><line x1="109.1" y1="972.54" x2="117" y2="972.54" stroke="#000" stroke-width="2.8"/><line x1="109.1" y1="950.98" x2="117" y2="950.98" stroke="#000" stroke-width="2.8"/><line x1="102.7" y1="929.43" x2="117" y2="929.43" stroke="#000" stroke-width="2.8"/><line x1="109.1" y1="907.87" x2="117" y2="907.87" stroke="#000" stroke-width="2.8"/><line x1="109.1" y1="886.32" x2="117" y2="886.32" stroke="#000" stroke-width="2.8"/><line x1="109.1" y1="864.76" x2="117" y2="864.76" stroke="#000" stroke-width="2.8"/><line x1="109.1" y1="843.21" x2="117" y2="843.21" stroke="#000" stroke-width="2.8"/><line x1="102.7" y1="821.65" x2="117" y2="821.65" stroke="#000" stroke-width="2.8"/><line x1="102.7" y1="1037.20" x2="434.12" y2="1037.20" stroke="#000" stroke-width="2.8"/><line x1="116.40" y1="1037.20" x2="116.40" y2="1051" stroke="#000" stroke-width="2.8"/><line x1="169.12" y1="1037.20" x2="169.12" y2="1051" stroke="#000" stroke-width="2.8"/><line x1="221.84" y1="1037.20" x2="221.84" y2="1051" stroke="#000" stroke-width="2.8"/><line x1="274.56" y1="1037.20" x2="274.56" y2="1051" stroke="#000" stroke-width="2.8"/><line x1="327.28" y1="1037.20" x2="327.28" y2="1051" stroke="#000" stroke-width="2.8"/><line x1="380.00" y1="1037.20" x2="380.00" y2="1051" stroke="#000" stroke-width="2.8"/><line x1="432.72" y1="1037.20" x2="432.72" y2="1051" stroke="#000" stroke-width="2.8"/>
<text x="98.0" y="1043.2" font-size="18.6" font-weight="bold" text-anchor="end" textLength="10.09" lengthAdjust="spacingAndGlyphs">0</text>
<text x="98.0" y="935.43" font-size="18.6" font-weight="bold" text-anchor="end" textLength="20.17" lengthAdjust="spacingAndGlyphs">50</text>
<text x="98.0" y="827.65" font-size="18.6" font-weight="bold" text-anchor="end" textLength="30.26" lengthAdjust="spacingAndGlyphs">100</text>
<text x="116.4" y="1072.4" font-size="18.8" font-weight="bold" text-anchor="middle" textLength="10.09" lengthAdjust="spacingAndGlyphs">0</text>
<text x="169.12" y="1072.4" font-size="18.8" font-weight="bold" text-anchor="middle" textLength="20.18" lengthAdjust="spacingAndGlyphs">20</text>
<text x="221.84" y="1072.4" font-size="18.8" font-weight="bold" text-anchor="middle" textLength="20.18" lengthAdjust="spacingAndGlyphs">40</text>
<text x="274.56" y="1072.4" font-size="18.8" font-weight="bold" text-anchor="middle" textLength="20.18" lengthAdjust="spacingAndGlyphs">60</text>
<text x="327.28" y="1072.4" font-size="18.8" font-weight="bold" text-anchor="middle" textLength="20.18" lengthAdjust="spacingAndGlyphs">80</text>
<text x="380.0" y="1072.4" font-size="18.8" font-weight="bold" text-anchor="middle" textLength="30.27" lengthAdjust="spacingAndGlyphs">100</text>
<text x="432.72" y="1072.4" font-size="18.8" font-weight="bold" text-anchor="middle" textLength="30.27" lengthAdjust="spacingAndGlyphs">120</text>
<text x="251.24" y="1095.9" font-size="19.8" font-weight="bold" textLength="46.45" lengthAdjust="spacingAndGlyphs">Days</text>
<text transform="translate(55,1005.7) rotate(-90)" font-size="20.6" font-weight="bold" textLength="147" lengthAdjust="spacingAndGlyphs">Percent survival</text>
<path d="M116.40,821.65 H140.12 V864.76 H314.10 V886.32 H432.72 V886.32" fill="none" stroke="#ed1c24" stroke-width="3" stroke-dasharray="12 4"/>
<path d="M116.40,821.65 H232.38 V843.21 H335.19 V864.76 H351.00 V886.32 H432.72 V886.32" fill="none" stroke="#ed1c24" stroke-width="3"/>
<path d="M116.40,821.65 H155.94 V845.58 H171.76 V869.50 H177.03 V893.43 H192.84 V917.35 H198.12 V965.42 H208.66 V989.35 H221.84 V1013.27 H227.11 V1037.20" fill="none" stroke="#000" stroke-width="3" stroke-dasharray="12 4"/>
<path d="M116.40,821.65 H182.30 V845.58 H190.21 V869.50 H198.12 V893.43 H200.75 V917.35 H208.66 V941.50 H213.93 V965.42 H221.84 V989.35 H245.56 V1013.27 H250.84 V1037.20" fill="none" stroke="#000" stroke-width="3"/>
<line x1="456.9" y1="930.5" x2="494" y2="930.5" stroke="#ed1c24" stroke-width="3"/>
<text x="511.97" y="937.0" font-size="16.9" font-weight="bold" textLength="106.61" lengthAdjust="spacingAndGlyphs">Aged - MBTA</text>
<line x1="456.9" y1="953.4" x2="494" y2="953.4" stroke="#000" stroke-width="3"/>
<text x="511.97" y="959.3" font-size="16.9" font-weight="bold" textLength="93.63" lengthAdjust="spacingAndGlyphs">Aged - PBS</text>
<line x1="456.9" y1="978.1" x2="494" y2="978.1" stroke="#ed1c24" stroke-width="3" stroke-dasharray="11 4.2"/>
<text x="512.06" y="983.7" font-size="16.9" font-weight="bold" textLength="115.64" lengthAdjust="spacingAndGlyphs">Young - MBTA</text>
<line x1="456.9" y1="1003.1" x2="494" y2="1003.1" stroke="#000" stroke-width="3" stroke-dasharray="11 4.2"/>
<text x="512.06" y="1009.0" font-size="16.9" font-weight="bold" textLength="102.46" lengthAdjust="spacingAndGlyphs">Young - PBS</text>
<line x1="634.2" y1="930" x2="634.2" y2="955.5" stroke="#000" stroke-width="3"/>
<text x="644.1" y="948.1" font-size="16.5" textLength="78.8" lengthAdjust="spacingAndGlyphs">p = 0.0001</text>
<line x1="638.9" y1="978.1" x2="638.9" y2="1003.5" stroke="#000" stroke-width="3"/>
<text x="649.4" y="996.3" font-size="16.5" textLength="69.8" lengthAdjust="spacingAndGlyphs">p = 0.002</text>
</svg>
</body></html>
